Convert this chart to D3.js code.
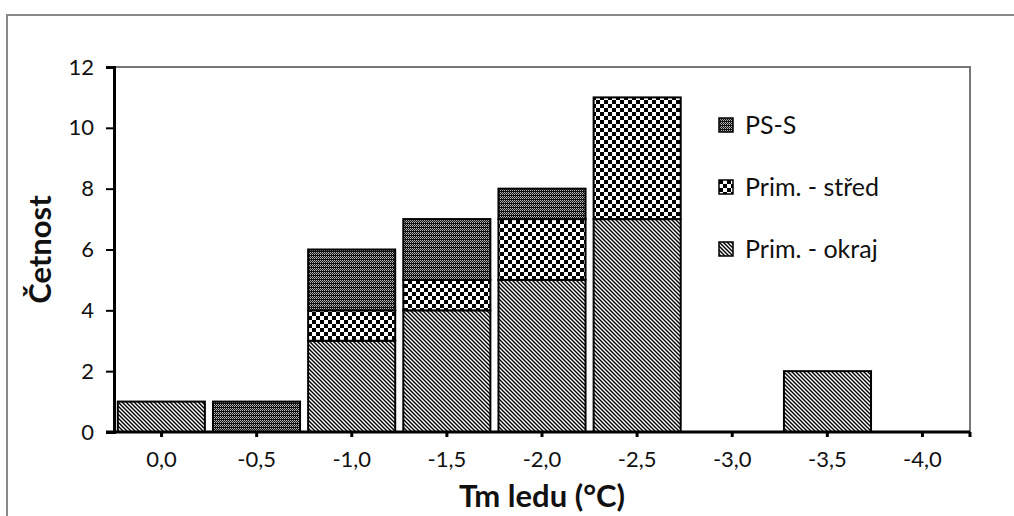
<!DOCTYPE html>
<html>
<head>
<meta charset="utf-8">
<script src="https://cdn.jsdelivr.net/npm/d3@7"></script>
<style>
  body { margin: 0; background: #fff; }
  text { font-family: Lato, "Open Sans", sans-serif; fill: #111; }
</style>
</head>
<body>
<div id="chart"></div>
<script>
// data
var categories = ["0,0", "-0,5", "-1,0", "-1,5", "-2,0", "-2,5", "-3,0", "-3,5", "-4,0"];
var okraj = [1, 0, 3, 4, 5, 7, 0, 2, 0];
var stred = [0, 0, 1, 1, 2, 4, 0, 0, 0];
var psS = [0, 1, 2, 2, 1, 0, 0, 0, 0];
var seriesNames = ["Prim. - okraj", "Prim. - střed", "PS-S"];
var yTicks = [0, 2, 4, 6, 8, 10, 12];

var width = 1014, height = 516;
var margin = { left: 114, right: 44, top: 67, bottom: 84 };

var svg = d3.select("#chart").append("svg")
  .attr("width", width)
  .attr("height", height);

// patterns
var defs = svg.append("defs");

var p1 = defs.append("pattern").attr("id", "pat-okraj")
  .attr("patternUnits", "userSpaceOnUse").attr("width", 4).attr("height", 4);
p1.append("rect").attr("width", 4).attr("height", 4).attr("fill", "#fff");
p1.append("path").attr("d", "M-1,-1 L5,5 M3,-1 L5,1 M-1,3 L1,5")
  .attr("stroke", "#000").attr("stroke-width", 1.4);

var p2 = defs.append("pattern").attr("id", "pat-stred")
  .attr("patternUnits", "userSpaceOnUse").attr("width", 8).attr("height", 8);
p2.append("rect").attr("width", 8).attr("height", 8).attr("fill", "#fff");
p2.append("rect").attr("width", 4).attr("height", 4).attr("fill", "#000");
p2.append("rect").attr("x", 4).attr("y", 4).attr("width", 4).attr("height", 4).attr("fill", "#000");

var p3 = defs.append("pattern").attr("id", "pat-pss")
  .attr("patternUnits", "userSpaceOnUse").attr("width", 4).attr("height", 4);
p3.append("rect").attr("width", 4).attr("height", 4).attr("fill", "#111");
p3.append("rect").attr("x", 0).attr("y", 0).attr("width", 1).attr("height", 1).attr("fill", "#bbb");
p3.append("rect").attr("x", 2).attr("y", 0).attr("width", 1).attr("height", 1).attr("fill", "#bbb");
p3.append("rect").attr("x", 1).attr("y", 1).attr("width", 1).attr("height", 1).attr("fill", "#999");
p3.append("rect").attr("x", 3).attr("y", 1).attr("width", 1).attr("height", 1).attr("fill", "#999");
p3.append("rect").attr("x", 0).attr("y", 2).attr("width", 1).attr("height", 1).attr("fill", "#bbb");
p3.append("rect").attr("x", 2).attr("y", 2).attr("width", 1).attr("height", 1).attr("fill", "#bbb");

var fills = ["url(#pat-okraj)", "url(#pat-stred)", "url(#pat-pss)"];

// outer chart border
svg.append("path")
  .attr("d", "M7," + (height + 5) + " L7,15 L" + (width + 5) + ",15")
  .attr("fill", "none").attr("stroke", "#888").attr("stroke-width", 2);

var table = categories.map(function(c, i) {
  return { cat: c, okraj: okraj[i], stred: stred[i], pss: psS[i] };
});

var x = d3.scaleBand()
  .domain(categories)
  .range([margin.left, width - margin.right])
  .paddingInner(0.085)
  .paddingOuter(0.04);

var xTick = d3.scaleBand()
  .domain(categories)
  .range([margin.left, width - margin.right]);

var y = d3.scaleLinear()
  .domain([0, 12])
  .range([height - margin.bottom, margin.top]);

// plot area top/right border
svg.append("path")
  .attr("d", "M" + margin.left + "," + y(12) + " L" + (width - margin.right) + "," + y(12) +
    " L" + (width - margin.right) + "," + y(0))
  .attr("fill", "none").attr("stroke", "#777").attr("stroke-width", 2);

// stacked bars
var stack = d3.stack().keys(["okraj", "stred", "pss"]);
var stacked = stack(table);

var groups = svg.append("g").selectAll("g")
  .data(stacked)
  .enter()
  .append("g")
  .attr("fill", function(d, i) { return fills[i]; });

groups.selectAll("rect")
  .data(function(d) { return d.filter(function(s) { return s[1] > s[0]; }); })
  .enter()
  .append("rect")
  .attr("x", function(d) { return x(d.data.cat); })
  .attr("y", function(d) { return y(d[1]); })
  .attr("width", x.bandwidth())
  .attr("height", function(d) { return y(d[0]) - y(d[1]); })
  .attr("stroke", "#000")
  .attr("stroke-width", 2);

// y axis
var yAxis = d3.axisLeft(y).tickValues(yTicks).tickSize(8).tickPadding(12)
  .tickFormat(d3.format("d"));
var gy = svg.append("g")
  .attr("transform", "translate(" + margin.left + ",0)")
  .call(yAxis);
gy.select(".domain").attr("stroke", "#000").attr("stroke-width", 3);
gy.selectAll(".tick line").attr("stroke", "#000").attr("stroke-width", 2);
gy.selectAll(".tick text").attr("font-size", 22).attr("fill", "#222");

// x axis
var xAxis = d3.axisBottom(xTick).tickSize(5).tickPadding(14);
var gx = svg.append("g")
  .attr("transform", "translate(0," + y(0) + ")")
  .call(xAxis);
gx.select(".domain").attr("d", "M" + (margin.left - 8) + ",0H" + (width - margin.right))
  .attr("stroke", "#000").attr("stroke-width", 3);
gx.selectAll(".tick line").attr("stroke", "#000").attr("stroke-width", 3);
gx.selectAll(".tick text").attr("font-size", 22).attr("fill", "#222");
gx.append("line")
  .attr("x1", width - margin.right).attr("x2", width - margin.right)
  .attr("y1", 0).attr("y2", 5)
  .attr("stroke", "#000").attr("stroke-width", 3);

// axis titles
svg.append("text")
  .attr("x", (margin.left + width - margin.right) / 2)
  .attr("y", 507)
  .attr("text-anchor", "middle")
  .attr("font-size", 31)
  .attr("font-weight", "bold")
  .text("Tm ledu (°C)");

svg.append("text")
  .attr("transform", "translate(51," + y(6) + ") rotate(-90)")
  .attr("text-anchor", "middle")
  .attr("font-size", 31)
  .attr("font-weight", "bold")
  .text("Četnost");

// legend (top entry first)
var legendOrder = [2, 1, 0];
var legend = svg.append("g").selectAll("g")
  .data(legendOrder)
  .enter()
  .append("g")
  .attr("transform", function(d, i) { return "translate(719," + (118 + i * 62) + ")"; });

legend.append("rect")
  .attr("width", 14).attr("height", 14)
  .attr("fill", function(d) { return fills[d]; })
  .attr("stroke", "#000").attr("stroke-width", 1.5);

legend.append("text")
  .attr("x", 26).attr("y", 16)
  .attr("font-size", 25)
  .text(function(d) { return seriesNames[d]; });
</script>
</body>
</html>
